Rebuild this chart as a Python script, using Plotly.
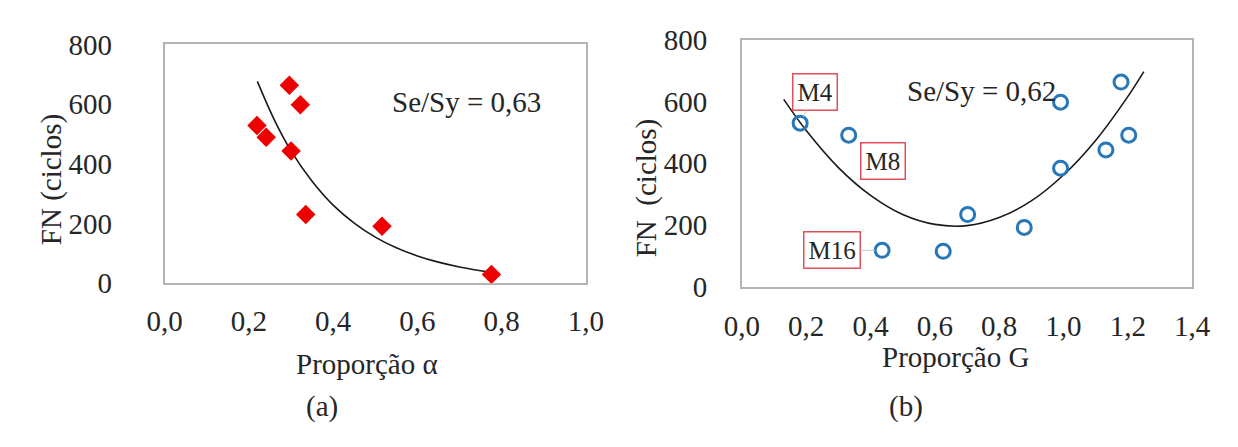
import plotly.graph_objects as go

# ---- data ----
alpha_x = [0.219, 0.241, 0.296, 0.322, 0.300, 0.335, 0.516, 0.776]
alpha_fn = [528, 489, 663, 598, 443, 230, 190, 29]
alpha_fit_x = [0.22, 0.26, 0.30, 0.35, 0.40, 0.45, 0.50, 0.55, 0.60, 0.65, 0.70, 0.78]
alpha_fit_y = [676, 548, 443, 341, 261, 201, 154, 118, 91, 70, 54, 35]

g_x = [0.181, 0.332, 0.991, 0.991, 1.179, 1.203, 1.132, 0.702, 0.878, 0.436, 0.626]
g_fn = [530, 491, 598, 384, 663, 491, 443, 234, 192, 118, 115]
g_fit_x = [0.13, 0.20, 0.30, 0.40, 0.50, 0.60, 0.70, 0.80, 0.90, 1.00, 1.10, 1.20, 1.25]
g_fit_y = [607, 506, 386, 296, 234, 202, 198, 224, 278, 362, 474, 616, 697]

x_ticks_a = [0.0, 0.2, 0.4, 0.6, 0.8, 1.0]
x_ticks_b = [0.0, 0.2, 0.4, 0.6, 0.8, 1.0, 1.2, 1.4]
y_ticks = [0, 200, 400, 600, 800]

labels_b = ["M4", "M8", "M16"]
labels_b_x = [0.181, 0.332, 0.436]
labels_b_y = [530, 491, 118]

W, H = 1238, 447
FONT = "Liberation Serif"
TXT = "#262626"
BOX = "#b4b4b4"
FS = 29

fig = go.Figure()

fig.add_trace(go.Scatter(x=alpha_fit_x, y=alpha_fit_y, mode="lines", line=dict(color="#1a1a1a", width=1.6, shape="spline"),
                         xaxis="x", yaxis="y", showlegend=False, hoverinfo="skip"))
fig.add_trace(go.Scatter(x=alpha_x, y=alpha_fn, mode="markers",
                         marker=dict(symbol="diamond", size=15, color="#ee0000"),
                         xaxis="x", yaxis="y", showlegend=False))

fig.add_trace(go.Scatter(x=g_fit_x, y=g_fit_y, mode="lines", line=dict(color="#1a1a1a", width=1.6, shape="spline"),
                         xaxis="x2", yaxis="y2", showlegend=False, hoverinfo="skip"))
fig.add_trace(go.Scatter(x=g_x, y=g_fn, mode="markers",
                         marker=dict(symbol="circle-open", size=14, color="#2878b8", line=dict(width=3, color="#2878b8")),
                         xaxis="x2", yaxis="y2", showlegend=False))

def px_x(p):
    return p / W

def px_y(p):
    return 1 - p / H

axis_common = dict(showgrid=False, zeroline=False, showline=True, mirror=True, linecolor=BOX, linewidth=2,
                   ticks="outside", tickcolor="rgba(0,0,0,0)",
                   tickfont=dict(family=FONT, size=FS, color=TXT))

fig.update_layout(
    width=W, height=H,
    margin=dict(l=0, r=0, t=0, b=0),
    paper_bgcolor="white", plot_bgcolor="white",
    separators=",.",
    font=dict(family=FONT, color=TXT),
    xaxis=dict(domain=[px_x(143), px_x(577)], range=[0, 1], tickvals=x_ticks_a, tickformat=".1f",
               anchor="y", ticklen=11, **axis_common),
    yaxis=dict(domain=[px_y(279), px_y(22)], range=[0, 800], tickvals=y_ticks,
               anchor="x", ticklen=45, **axis_common),
    xaxis2=dict(domain=[px_x(738), px_x(1202)], range=[0, 1.4], tickvals=x_ticks_b, tickformat=".1f",
                anchor="y2", ticklen=12, **axis_common),
    yaxis2=dict(domain=[px_y(283), px_y(17)], range=[0, 800], tickvals=y_ticks,
                anchor="x2", ticklen=27, **axis_common),
)

ann = []
def txt(x, y, s, size=FS, angle=0):
    ann.append(dict(xref="paper", yref="paper", x=px_x(x), y=px_y(y), text=s, showarrow=False,
                    xanchor="center", yanchor="middle", textangle=angle,
                    font=dict(family=FONT, size=size, color=TXT)))

txt(27, 168, "FN (ciclos)", angle=-90)
txt(640, 176, "FN  (ciclos)", angle=-90)
txt(352, 366, "Proporção α")
txt(958, 359, "Proporção G")
txt(454, 84, "Se/Sy = 0,63")
txt(985, 72, "Se/Sy = 0,62")
txt(305, 412, "(a)")
txt(907, 412, "(b)")

# labels on the right panel (box offsets in pixels from the labelled point)
offsets = [(15, -31), (0, 0), (-50, 0)]
leader = [True, False, True]
for lab, lx, ly, (ox, oy), ld in zip(labels_b, labels_b_x, labels_b_y, offsets, leader):
    if ld:
        ann.append(dict(xref="x2", yref="y2", x=lx, y=ly, ax=ox, ay=oy, text=lab, showarrow=True,
                        arrowhead=0, arrowwidth=1, arrowcolor="#c8c8c8", standoff=7,
                        font=dict(family=FONT, size=25, color=TXT),
                        bordercolor="#e0505a", borderwidth=1.5, borderpad=4, bgcolor="white"))
    else:
        ann.append(dict(xref="paper", yref="paper", x=px_x(883), y=px_y(148), text=lab, showarrow=False,
                        xanchor="center", yanchor="middle",
                        font=dict(family=FONT, size=25, color=TXT),
                        bordercolor="#e0505a", borderwidth=1.5, borderpad=4, bgcolor="white"))

fig.update_layout(annotations=ann)
fig.write_html("out.html")
